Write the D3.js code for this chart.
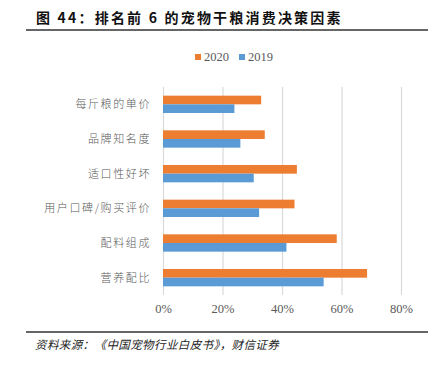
<!DOCTYPE html>
<html>
<head>
<meta charset="utf-8">
<script src="https://d3js.org/d3.v7.min.js"></script>
<style>
  body { margin: 0; background: #fff; }
</style>
</head>
<body>
<svg id="chart" width="437" height="372"></svg>
<script>
// data (percent)
const categories = ["每斤粮的单价", "品牌知名度", "适口性好坏", "用户口碑/购买评价", "配料组成", "营养配比"];
const seriesNames = ["2020", "2019"];
const values2020 = [33, 34.2, 45, 44.2, 58.4, 68.6];
const values2019 = [24, 26, 30.5, 32.3, 41.5, 54];
const xTicks = [0, 20, 40, 60, 80];

const colors = {"2020": "#ED7D31", "2019": "#5B9BD5"};
const cjk = "'Noto Sans CJK SC', sans-serif";
const serif = "'Liberation Serif', 'DejaVu Serif', serif";

const svg = d3.select("#chart");
const rows = categories.map((c, i) => ({cat: c, "2020": values2020[i], "2019": values2019[i]}));

// title + rule
svg.append("text")
   .attr("x", 36).attr("y", 23)
   .attr("font-family", cjk).attr("font-weight", "bold")
   .attr("font-size", 14).attr("letter-spacing", 2.2)
   .attr("fill", "#111")
   .text("图 44：排名前 6 的宠物干粮消费决策因素");
svg.append("line")
   .attr("x1", 26).attr("x2", 428).attr("y1", 30).attr("y2", 30)
   .attr("stroke", "#333").attr("stroke-width", 1.5);

const plot = {left: 163, right: 401, top: 87, bottom: 295};

const x = d3.scaleLinear().domain([0, 80]).range([plot.left, plot.right]);
const y = d3.scaleBand().domain(categories).range([plot.top, plot.bottom])
            .paddingInner(0.5).paddingOuter(0.25);
const ySub = d3.scaleBand().domain(seriesNames).range([0, y.bandwidth()]);

// grid + x axis
const xAxis = svg.append("g")
   .attr("transform", `translate(0,${plot.bottom})`)
   .call(d3.axisBottom(x).tickValues(xTicks).tickFormat(d => d + "%")
           .tickSize(-(plot.bottom - plot.top)).tickPadding(9));
xAxis.select(".domain").remove();
xAxis.selectAll(".tick line").attr("stroke", "#d9d9d9").attr("stroke-width", 1.2);
xAxis.selectAll(".tick text")
     .attr("fill", "#595959").attr("font-family", serif).attr("font-size", 12.5);

// category labels
svg.append("g").selectAll("text")
   .data(categories).join("text")
   .attr("x", 151)
   .attr("y", d => y(d) + y.bandwidth() / 2)
   .attr("dy", "0.35em")
   .attr("text-anchor", "end")
   .attr("font-family", cjk).attr("font-size", 11).attr("font-weight", 300)
   .attr("letter-spacing", 1.6)
   .attr("fill", "#595959")
   .text(d => d);

// bars
const groups = svg.append("g").selectAll("g")
   .data(rows).join("g")
   .attr("transform", d => `translate(0,${y(d.cat)})`);
groups.selectAll("rect")
   .data(d => seriesNames.map(k => ({key: k, value: d[k]})))
   .join("rect")
   .attr("x", x(0))
   .attr("y", d => ySub(d.key))
   .attr("width", d => x(d.value) - x(0))
   .attr("height", ySub.bandwidth())
   .attr("fill", d => colors[d.key]);

// legend
const legend = svg.append("g").selectAll("g")
   .data(seriesNames).join("g")
   .attr("transform", (d, i) => `translate(${195 + i * 44},54)`);
legend.append("rect").attr("width", 6).attr("height", 6).attr("fill", d => colors[d]);
legend.append("text")
   .attr("x", 9).attr("y", 3).attr("dy", "0.35em")
   .attr("font-family", serif).attr("font-size", 12.5)
   .attr("fill", "#595959")
   .text(d => d);

// source rule + note
svg.append("line")
   .attr("x1", 26).attr("x2", 428).attr("y1", 332).attr("y2", 332)
   .attr("stroke", "#333").attr("stroke-width", 1.5);
svg.append("text")
   .attr("x", 35).attr("y", 349)
   .attr("font-family", cjk).attr("font-size", 11.5).attr("font-style", "italic")
   .attr("letter-spacing", 0.4)
   .attr("fill", "#222")
   .text("资料来源：《中国宠物行业白皮书》，财信证券");
</script>
</body>
</html>
